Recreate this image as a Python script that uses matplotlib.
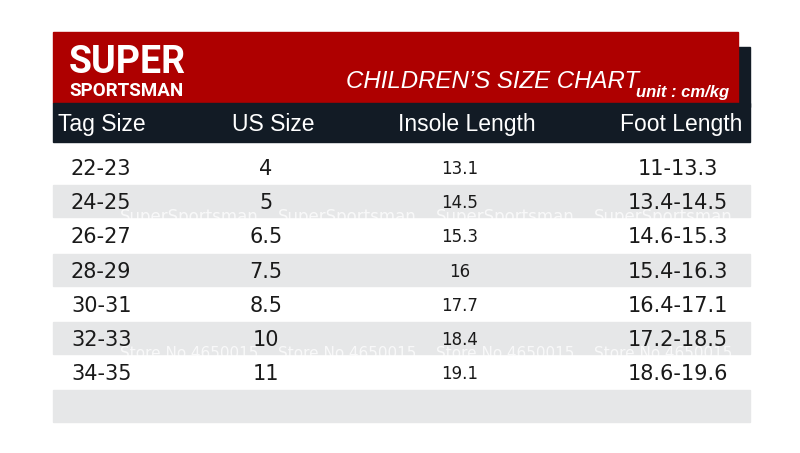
import matplotlib.pyplot as plt
from matplotlib.patches import Rectangle

# table content
headers = ["Tag Size", "US Size", "Insole Length", "Foot Length"]
tag_sizes = ["22-23", "24-25", "26-27", "28-29", "30-31", "32-33", "34-35"]
us_sizes = ["4", "5", "6.5", "7.5", "8.5", "10", "11"]
insole_length = ["13.1", "14.5", "15.3", "16", "17.7", "18.4", "19.1"]
foot_length = ["11-13.3", "13.4-14.5", "14.6-15.3", "15.4-16.3",
               "16.4-17.1", "17.2-18.5", "18.6-19.6"]
watermarks = {1: ("SuperSportsman", 12), 5: ("Store No.4650015", 11)}

RED = "#ae0000"
DARK = "#121b25"
GREY = "#e6e7e8"
TXT = "#1a1a1a"

plt.rcParams['font.family'] = ['DejaVu Sans']

fig = plt.figure(figsize=(8, 4.53), dpi=100)
ax = fig.add_axes([0, 0, 1, 1])
ax.set_xlim(0, 800)
ax.set_ylim(453, 0)
ax.axis('off')

left, right = 53, 750

# banner + header bar
ax.add_patch(Rectangle((738, 47), right - 738, 60, color=DARK, zorder=1))
ax.add_patch(Rectangle((left, 32), 738 - left, 71, color=RED, zorder=2))
ax.add_patch(Rectangle((left, 103), right - left, 39, color=DARK, zorder=2))

ax.text(69, 73, "SUPER", color="white", fontsize=27, fontweight="bold",
        family=['Roboto', 'DejaVu Sans'], va="baseline", ha="left", zorder=3)
ax.text(69, 96, "SPORTSMAN", color="white", fontsize=13.5, fontweight="bold",
        family=['Roboto', 'DejaVu Sans'], va="baseline", ha="left", zorder=3)
ax.text(346, 88, "CHILDREN\u2019S SIZE CHART", color="white", fontsize=17.3,
        style="italic", family=['Liberation Sans', 'DejaVu Sans'],
        va="baseline", ha="left", zorder=3)
ax.text(636, 97, "unit : cm/kg", color="white", fontsize=12, style="italic",
        fontweight="bold", family=['Liberation Sans', 'DejaVu Sans'],
        va="baseline", ha="left", zorder=3)

# column headers
hx = [58, 273, 467, 681]
ha_list = ["left", "center", "center", "center"]
for x, h, a in zip(hx, headers, ha_list):
    ax.text(x, 131, h, color="white", fontsize=16.5, family=['Liberation Sans', 'DejaVu Sans'],
            va="baseline", ha=a, zorder=3)

# rows
row0, step = 167.5, 34.17
n = len(tag_sizes)
for i in range(n + 1):
    yc = row0 + i * step
    if i % 2 == 1:
        band = Rectangle((left, yc - 16.5), right - left, 32, color=GREY, zorder=1)
        ax.add_patch(band)
        if i in watermarks:
            label, fs = watermarks[i]
            for wx in [120, 278, 436, 594]:
                t = ax.text(wx, yc + 20, label, color="white", alpha=0.75,
                            fontsize=fs, va="baseline", ha="left", zorder=2)
                t.set_clip_path(band)
    if i < n:
        base = yc + 7.5
        ax.text(71, base, tag_sizes[i], color=TXT, fontsize=15, va="baseline", ha="left", zorder=3)
        ax.text(266, base, us_sizes[i], color=TXT, fontsize=15, va="baseline", ha="center", zorder=3)
        ax.text(460, yc + 6.5, insole_length[i], color=TXT, fontsize=12, va="baseline", ha="center", zorder=3)
        ax.text(678, base, foot_length[i], color=TXT, fontsize=15, va="baseline", ha="center", zorder=3)

fig.savefig("out.png", dpi=100, facecolor="white")
